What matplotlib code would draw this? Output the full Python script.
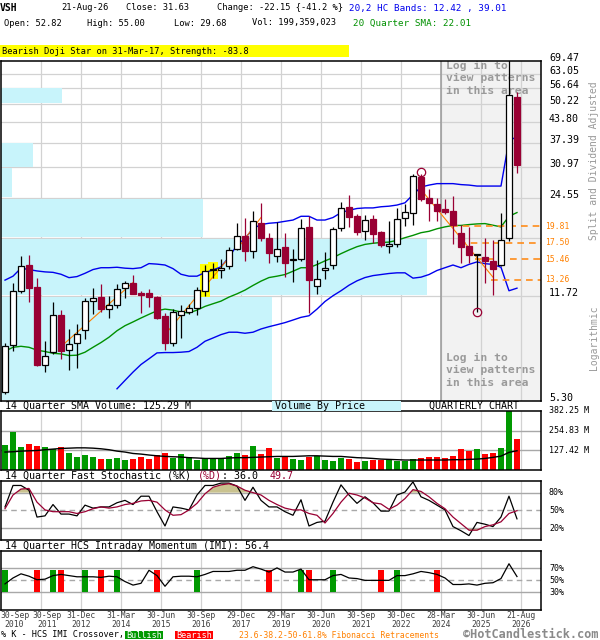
import matplotlib
matplotlib.use("Agg")
import matplotlib.pyplot as plt
import matplotlib.transforms as mtransforms
from matplotlib.patches import Rectangle
import numpy as np

plt.rcParams["font.family"] = ["DejaVu Sans Mono"]

# quarterly candles, 30-Sep-2010 .. 21-Aug-2026 (split/dividend adjusted)
opens = [5.65, 8.05, 12.2, 14.8, 12.5, 6.92, 7.64, 10.1, 7.78, 8.2,
         9.05, 11.25, 11.6, 10.6, 10.9, 12.4, 12.9, 12.0, 11.95, 11.6,
         10.05, 8.23, 10.1, 10.4, 10.65, 12.2, 14.2, 14.25, 14.7, 16.65,
         18.4, 16.5, 20.4, 18.2, 15.9, 17.0, 15.4, 15.5, 19.7, 12.6,
         14.2, 14.8, 19.6, 22.9, 21.4, 19.2, 21.0, 18.95, 17.1, 17.35,
         21.1, 22.0, 28.8, 24.5, 23.55, 22.6, 22.2, 18.8, 17.1, 15.95,
         15.7, 15.3, 14.8, 18.2, 52.82]
highs = [8.2, 12.9, 15.8, 16.0, 13.4, 8.35, 11.2, 10.5, 9.1, 9.5,
         11.5, 12.45, 12.8, 11.7, 12.85, 13.1, 13.7, 12.2, 12.3, 11.75,
         10.3, 10.6, 10.95, 11.0, 12.5, 14.8, 15.0, 15.5, 16.9, 20.4,
         21.1, 22.3, 23.6, 18.9, 20.5, 18.8, 16.7, 20.9, 21.4, 15.4,
         16.35, 19.7, 23.8, 25.1, 21.7, 21.55, 21.55, 19.1, 20.7, 22.7,
         23.5, 29.4, 29.4, 26.3, 24.6, 24.3, 24.9, 20.1, 19.7, 16.1,
         18.1, 17.85, 22.0, 72.0, 55.00]
lows = [5.58, 7.74, 12.0, 11.2, 6.87, 6.58, 7.55, 7.28, 6.70, 6.8,
        8.45, 10.2, 10.4, 9.9, 10.65, 11.55, 11.85, 10.3, 10.8, 9.8,
        7.8, 8.0, 8.55, 10.2, 10.15, 11.7, 13.4, 13.4, 14.4, 16.6,
        15.2, 15.6, 17.8, 15.0, 15.1, 13.5, 13.0, 15.3, 10.3, 11.9,
        13.3, 14.4, 19.2, 19.8, 18.6, 17.85, 17.5, 16.9, 16.2, 17.0,
        19.9, 20.1, 24.1, 20.7, 20.6, 21.7, 17.35, 15.0, 15.0, 10.4,
        12.95, 11.8, 14.7, 17.8, 29.68]
closes = [8.0, 12.2, 14.7, 12.4, 6.92, 7.45, 10.1, 7.74, 8.15, 8.8,
          11.3, 11.5, 10.6, 10.9, 12.3, 12.9, 11.9, 11.8, 11.6, 9.9,
          8.23, 10.4, 10.45, 10.7, 12.25, 14.1, 14.4, 14.45, 16.6, 18.4,
          16.5, 20.7, 18.1, 16.2, 16.7, 15.0, 15.5, 19.6, 13.2, 13.3,
          14.45, 19.4, 22.7, 21.3, 18.95, 20.85, 18.7, 17.2, 17.35, 21.0,
          22.1, 29.0, 24.3, 23.7, 22.3, 22.1, 20.1, 16.9, 16.0, 16.05,
          15.2, 14.4, 17.9, 53.78, 31.63]

# volume in millions and its 14 quarter SMA
volume_m = [162, 248, 150, 169, 156, 150, 135, 150, 111, 88,
            98, 86, 75, 75, 79, 66, 75, 88, 75, 96,
            111, 81, 105, 83, 66, 77, 77, 77, 92, 111,
            98, 156, 105, 143, 79, 94, 73, 66, 88, 94,
            66, 60, 79, 73, 53, 60, 66, 66, 66, 62,
            62, 73, 81, 86, 86, 79, 90, 137, 124, 137,
            105, 111, 143, 395, 199.359023]
volume_sma = [117, 119, 123, 125, 127, 132, 136, 140, 142, 144,
              144, 142, 138, 132, 123, 117, 108, 104, 98, 93,
              89, 87, 85, 81, 79, 76, 76, 76, 79, 81,
              81, 83, 85, 87, 89, 89, 89, 91, 93, 93,
              91, 89, 89, 85, 81, 79, 76, 72, 70, 68,
              66, 66, 66, 66, 66, 66, 68, 68, 70, 72,
              76, 83, 91, 115, 125.29]

# 20,2 HC bands and 20 quarter SMA
upper_band = [13.2, 13.6, 14.45, 14.3, 14.15, 14.05, 14.0, 13.8, 13.45, 13.56,
              13.9, 14.3, 14.5, 14.5, 14.55, 14.45, 14.4, 14.5, 14.96, 14.9,
              14.8, 14.4, 13.8, 13.6, 13.6, 13.98, 14.25, 14.6, 15.7, 17.2,
              18.1, 19.5, 20.1, 20.3, 20.4, 20.6, 20.8, 21.4, 21.4, 20.8,
              20.8, 21.2, 22.0, 22.4, 22.7, 22.8, 22.8, 23.0, 23.1, 23.3,
              23.7, 25.2, 26.7, 27.1, 27.4, 27.4, 27.4, 27.2, 27.1, 26.9,
              26.9, 26.9, 26.9, 38.0, 39.01]
lower_band = [np.nan] * 14 + [
              5.80, 6.18, 6.58, 6.97, 7.28, 7.61,
              7.63, 7.63, 7.65, 7.69, 7.94, 8.31, 8.52, 8.74, 8.90, 8.90,
              8.83, 8.90, 9.12, 9.28, 9.42, 9.57, 9.76, 9.96, 10.08, 10.6,
              11.23, 11.73, 12.18, 12.7, 13.13, 13.46, 13.66, 13.77, 13.88, 13.95,
              13.95, 13.4, 13.5, 13.77, 14.2, 14.5, 14.8, 14.5, 14.87, 15.15,
              14.95, 14.87, 14.55, 12.18, 12.42]
sma20 = [7.71, 7.94, 8.0, 7.94, 7.77, 7.69, 7.59, 7.55, 7.46, 7.48,
         7.65, 7.94, 8.23, 8.57, 9.0, 9.35, 9.62, 9.91, 10.19, 10.47,
         10.6, 10.52, 10.36, 10.3, 10.52, 10.82, 11.04, 11.26, 11.61, 11.9,
         12.24, 12.68, 13.1, 13.46, 13.6, 13.77, 14.12, 14.5, 14.5, 14.85,
         15.27, 15.65, 16.13, 16.58, 17.0, 17.3, 17.45, 17.55, 17.6, 17.84,
         18.2, 18.52, 18.9, 19.1, 19.47, 19.75, 19.97, 19.97, 20.1, 20.2,
         20.25, 20.0, 19.75, 21.4, 22.01]

# 14 quarter fast stochastic
stoch_k = [56, 92, 92, 84, 39, 41, 60, 44, 44, 41,
           59, 54, 56, 56, 63, 67, 60, 74, 74, 48,
           24, 56, 54, 51, 76, 92, 92, 96, 96, 91,
           67, 89, 67, 56, 56, 48, 42, 68, 24, 30,
           32, 64, 93, 76, 62, 73, 63, 49, 49, 76,
           81, 98, 73, 67, 59, 51, 23, 16, 8, 30,
           27, 23, 39, 74, 36.0]
stoch_d = [53, 76, 86, 87, 64, 51, 48, 48, 48, 45,
           48, 53, 56, 54, 56, 60, 62, 66, 67, 64,
           51, 42, 43, 51, 62, 78, 89, 93, 95, 91,
           84, 80, 76, 67, 60, 54, 51, 51, 45, 42,
           29, 45, 64, 79, 76, 71, 63, 61, 52, 59,
           70, 85, 82, 73, 62, 53, 39, 28, 17, 17,
           23, 26, 31, 45, 49.7]

# 14 quarter HCS intraday momentum
imi = [44, 54, 61, 57, 51, 52, 58, 60, 58, 56,
       56, 56, 55, 57, 56, 48, 42, 45, 67, 58,
       40, 56, 57, 57, 56, 60, 65, 65, 65, 67,
       67, 73, 69, 64, 71, 64, 64, 69, 51, 51,
       51, 58, 60, 54, 53, 50, 50, 50, 50, 58,
       58, 61, 65, 63, 60, 54, 43, 43, 44, 42,
       45, 46, 53, 78, 56.4]
bullish_idx = [0, 6, 10, 14, 24, 37, 41, 49]
bearish_idx = [4, 7, 12, 19, 33, 38, 47, 54]

price_ticks = [5.30, 11.72, 18.13, 24.55, 30.97, 37.39, 43.80, 50.22, 56.64, 63.05, 69.47]
vbp_volume = [271, 426, 202, 11, 32, 0, 0, 61, 0, 0]

fib_levels = [19.81, 17.50, 15.46, 13.26]
fib_start = [56, 57, 59, 61]
trend_segments = [(7, 7.98, 16, 12.96), (20, 8.74, 28, 15.65),
                  (29, 16.7, 32, 21.2), (52, 26.2, 61, 13.5)]
pattern_idx = [25, 26]
swing_high_idx = 52
swing_low_idx = 59

date_labels = ["30-Sep\n2010", "30-Sep\n2011", "31-Dec\n2012", "31-Mar\n2014",
               "30-Jun\n2015", "30-Sep\n2016", "29-Dec\n2017", "29-Mar\n2019",
               "30-Jun\n2020", "30-Sep\n2021", "30-Dec\n2022", "28-Mar\n2024",
               "30-Jun\n2025", "21-Aug\n2026"]
date_label_idx = [0, 4, 9, 14, 19, 24, 29, 34, 39, 44, 49, 54, 59, 64]

MAROON = "#990033"
GRID = "#d2d2d2"
W, H = 600, 640


def fx(px):
    return px / W


def fy(py):
    return 1 - py / H


opens = np.array(opens)
closes = np.array(closes)
highs = np.array(highs)
lows = np.array(lows)
x = np.arange(len(closes))
xlim = (-0.5625, 66.94)

fig = plt.figure(figsize=(6, 6.4), dpi=100)
ax_p = fig.add_axes([fx(0.5), fy(400.7), 540 / W, 340 / H])
ax_v = fig.add_axes([fx(0.5), fy(470.3), 540 / W, 59.6 / H])
ax_s = fig.add_axes([fx(0.5), fy(540.3), 540 / W, 59.6 / H])
ax_m = fig.add_axes([fx(0.5), fy(610), 540 / W, 59.3 / H])

for ax in (ax_p, ax_v, ax_s, ax_m):
    ax.set_xlim(*xlim)
    ax.tick_params(which="both", left=False, bottom=False, labelleft=False, labelbottom=False)
    for sp in ax.spines.values():
        sp.set_linewidth(1.1)
        sp.set_zorder(10)
    for k in range(1, 14):
        ax.axvline(5 * k - 0.5375, color=GRID, lw=0.9, zorder=0.5)

# ---- price panel
ax_p.set_yscale("log")
ax_p.set_ylim(price_ticks[0], price_ticks[-1])
ax_p.axvspan(54.46, xlim[1], color="#f2f2f2", zorder=0.1, lw=0)
ax_p.axvline(54.46, color="#999999", lw=1.1, zorder=0.6)
for t in price_ticks[1:-1]:
    ax_p.axhline(t, color=GRID, lw=0.9, zorder=0.5)

vmax = max(vbp_volume)
for lo, hi, v in zip(price_ticks[:-1], price_ticks[1:], vbp_volume):
    if v > 0:
        ax_p.axhspan(lo * 1.006, hi / 1.006, xmin=0, xmax=v / vmax * 0.789,
                     color="#c8f4fb", lw=0, zorder=0.8)

# grey "log in" notes, first line centred near y=67 and y=359
for py in (67, 359):
    ax_p.text(fx(446), fy(py - 6), "Log in to\nview patterns\nin this area", transform=fig.transFigure,
              color="#9a9a9a", fontsize=8.2, fontweight="bold", va="top", ha="left",
              linespacing=1.28, zorder=0.9)

for i in pattern_idx:
    ax_p.add_patch(Rectangle((i - 0.62, lows[i] * 0.99), 1.24, highs[i] * 1.01 - lows[i] * 0.99,
                             color="#ffff00", lw=0, zorder=1))

ax_p.plot(x, upper_band, color="#0000ee", lw=1, zorder=2)
ax_p.plot(x, lower_band, color="#0000ee", lw=1, zorder=2)
ax_p.plot(x, sma20, color="#009000", lw=1, zorder=2)

for i0, p0, i1, p1 in trend_segments:
    ax_p.plot([i0, i1], [p0, p1], color="#ff8000", lw=0.8, zorder=2.5)
for lvl, s in zip(fib_levels, fib_start):
    ax_p.plot([s - 0.25, xlim[1]], [lvl, lvl], color="#ff8c1a", lw=1.2,
              dashes=(4, 3), zorder=2.5)

up = closes >= opens
for i in x:
    c = "black" if up[i] else MAROON
    ax_p.vlines(i, lows[i], highs[i], color=c, lw=0.9, zorder=3)
    b0, b1 = min(opens[i], closes[i]), max(opens[i], closes[i])
    ax_p.add_patch(Rectangle((i - 0.37, b0), 0.74, b1 - b0,
                             facecolor="white" if up[i] else MAROON,
                             edgecolor=c, lw=0.9, zorder=3.1))

ax_p.plot([swing_high_idx], [highs[swing_high_idx] * 1.02], "o", mfc="none", mec=MAROON,
          ms=6, mew=0.9, zorder=4)
ax_p.plot([swing_low_idx], [lows[swing_low_idx]], "o", mfc="none", mec=MAROON,
          ms=6, mew=0.9, zorder=4)

lab_p = mtransforms.blended_transform_factory(ax_p.transAxes, ax_p.transData) + \
    mtransforms.ScaledTranslation(0, 0.03, fig.dpi_scale_trans)
for t in price_ticks:
    if abs(t - 18.13) < 0.01:
        continue
    ax_p.text(1.0157, t, f"{t:.2f}", transform=lab_p, fontsize=7.2, va="center", ha="left")
lab_f = mtransforms.blended_transform_factory(ax_p.transAxes, ax_p.transData)
for lvl in fib_levels:
    ax_p.text(1.0083, lvl, f"{lvl:.2f}", transform=lab_f, fontsize=5.8, va="center",
              ha="left", color="#ff8000")

fig.text(fx(594), fy(161), "Split and Dividend Adjusted", rotation=90, color="#999999",
         fontsize=7.0, ha="center", va="center")
fig.text(fx(594), fy(338), "Logarithmic", rotation=90, color="#999999",
         fontsize=7.0, ha="center", va="center")

# ---- volume panel
vol_top = 382.25
vol_up = np.concatenate([[True], closes[1:] >= closes[:-1]])
ax_v.set_ylim(0, vol_top)
for t in (vol_top / 3, vol_top * 2 / 3):
    ax_v.axhline(t, color="#a8a8a8", lw=1, zorder=0.6)
ax_v.bar(x, volume_m, width=0.75, color=np.where(vol_up, "#009900", "#ff0000"), zorder=2)
ax_v.plot(x, volume_sma, color="black", lw=1, zorder=3)
lab_v = mtransforms.blended_transform_factory(ax_v.transAxes, ax_v.transData)
for t in (vol_top, vol_top * 2 / 3, vol_top / 3):
    ax_v.text(1.0157, t, f"{t:.2f} M", transform=lab_v, fontsize=6, va="center", ha="left")

# ---- stochastic panel
ax_s.set_ylim(0, 100)
k = np.array(stoch_k, dtype=float)
d = np.array(stoch_d, dtype=float)
ax_s.fill_between(x, d, 80, where=d >= 80, interpolate=True, color="#c9c28f", lw=0, zorder=1)
ax_s.fill_between(x, d, 20, where=d <= 20, interpolate=True, color="#c9c28f", lw=0, zorder=1)
for t in (80, 20):
    ax_s.axhline(t, color="#a8a8a8", lw=1, zorder=0.6)
ax_s.axhline(50, color="#a8a8a8", lw=1, dashes=(4, 3), zorder=0.6)
ax_s.plot(x, k, color="black", lw=0.9, zorder=3)
ax_s.plot(x, d, color=MAROON, lw=0.9, zorder=3)
lab_s = mtransforms.blended_transform_factory(ax_s.transAxes, ax_s.transData)
for t in (80, 50, 20):
    ax_s.text(1.0157, t, f"{t}%", transform=lab_s, fontsize=6, va="center", ha="left")

# ---- IMI panel
ax_m.set_ylim(0, 100)
for t in (70, 30):
    ax_m.axhline(t, color="#a8a8a8", lw=1, zorder=0.6)
ax_m.axhline(50, color="#a8a8a8", lw=1, dashes=(4, 3), zorder=0.6)
ax_m.bar(bullish_idx, 37, bottom=31, width=0.75, color="#009900", zorder=1)
ax_m.bar(bearish_idx, 37, bottom=31, width=0.75, color="#ff0000", zorder=1)
ax_m.plot(x, imi, color="black", lw=0.9, zorder=3)
lab_m = mtransforms.blended_transform_factory(ax_m.transAxes, ax_m.transData)
for t in (70, 50, 30):
    ax_m.text(1.0157, t, f"{t}%", transform=lab_m, fontsize=6, va="center", ha="left")

lab_x = mtransforms.blended_transform_factory(ax_m.transData, ax_m.transAxes)
pos = [i + 0.4625 for i in date_label_idx]
pos[0] = 1.2
pos[1] = 5.25
for p, s in zip(pos, date_labels):
    top, bot = s.split("\n")
    ax_m.text(p, -0.097, top, transform=lab_x, fontsize=5.9, ha="center", va="center",
              color="#404040", clip_on=False)
    ax_m.text(p, -0.237, bot, transform=lab_x, fontsize=5.9, ha="center", va="center",
              color="#404040", clip_on=False)

# ---- header
chg = closes[-1] - closes[-2]
fig.text(fx(0), fy(8), "VSH", fontsize=7, fontweight="bold", va="center")
fig.text(fx(61), fy(8), "21-Aug-26", fontsize=6.3, va="center")
fig.text(fx(126), fy(8), f"Close: {closes[-1]:.2f}", fontsize=6.3, va="center")
fig.text(fx(217), fy(8), f"Change: {chg:.2f} {{{chg / closes[-2] * 100:.1f} %}}",
         fontsize=6.3, va="center")
fig.text(fx(349), fy(8), f"20,2 HC Bands: {lower_band[-1]:.2f} , {upper_band[-1]:.2f}",
         fontsize=6.7, va="center", color="#0000ee")
fig.text(fx(4), fy(23), f"Open: {opens[-1]:.2f}", fontsize=6.3, va="center")
fig.text(fx(87), fy(23), f"High: {highs[-1]:.2f}", fontsize=6.3, va="center")
fig.text(fx(174), fy(23), f"Low: {lows[-1]:.2f}", fontsize=6.3, va="center")
fig.text(fx(252), fy(23), f"Vol: {round(volume_m[-1] * 1e6):,}", fontsize=6.3, va="center")
fig.text(fx(353), fy(23), f"20 Quarter SMA: {sma20[-1]:.2f}", fontsize=6.7, va="center",
         color="#009000")

fig.patches.append(Rectangle((fx(0), fy(57)), fx(349), 12 / H, transform=fig.transFigure,
                             color="#ffff00", lw=0))
fig.text(fx(2), fy(51), "Bearish Doji Star on 31-Mar-17, Strength: -83.8", fontsize=6.2,
         va="center")

# ---- panel titles
fig.text(fx(5), fy(405.7), f"14 Quarter SMA Volume: {volume_sma[-1]:.2f} M", fontsize=7.2,
         va="center")
fig.patches.append(Rectangle((fx(271.7), fy(410.7)), 129 / W, 10 / H,
                             transform=fig.transFigure, color="#c8f4fb", lw=0))
fig.text(fx(275), fy(405.7), "Volume By Price", fontsize=7.2, va="center")
fig.text(fx(429), fy(405.7), "QUARTERLY CHART", fontsize=7.2, va="center")

cw = 6.02
fig.text(fx(5), fy(475.7), "14 Quarter Fast Stochastic (%K)", fontsize=7.2, va="center")
fig.text(fx(5 + 32 * cw), fy(475.7), "(%D)", fontsize=7.2, va="center", color=MAROON)
fig.text(fx(5 + 36 * cw), fy(475.7), f": {stoch_k[-1]:.1f}", fontsize=7.2, va="center")
fig.text(fx(5 + 44 * cw), fy(475.7), f"{stoch_d[-1]:.1f}", fontsize=7.2, va="center",
         color=MAROON)
fig.text(fx(5), fy(545.7), f"14 Quarter HCS Intraday Momentum (IMI): {imi[-1]:.1f}",
         fontsize=7.2, va="center")

# ---- footer
fig.text(fx(1), fy(635), "% K - HCS IMI Crossover,", fontsize=6.1, va="center")
fig.patches.append(Rectangle((fx(125), fy(639)), 38 / W, 8.5 / H, transform=fig.transFigure,
                             color="#009900", lw=0))
fig.text(fx(144), fy(635), "Bullish", fontsize=6.1, va="center", ha="center", color="white")
fig.patches.append(Rectangle((fx(175), fy(639)), 38 / W, 8.5 / H, transform=fig.transFigure,
                             color="#ff0000", lw=0))
fig.text(fx(194), fy(635), "Bearish", fontsize=6.1, va="center", ha="center", color="white")
fig.text(fx(239), fy(635), "23.6-38.2-50-61.8% Fibonacci Retracements", fontsize=5.9,
         va="center", color="#ff8000")
fig.text(fx(463), fy(634), "\u00a9HotCandlestick.com", fontsize=8.6, fontweight="bold",
         va="center", color="#8a8a8a")

fig.savefig("out.png", dpi=100)
